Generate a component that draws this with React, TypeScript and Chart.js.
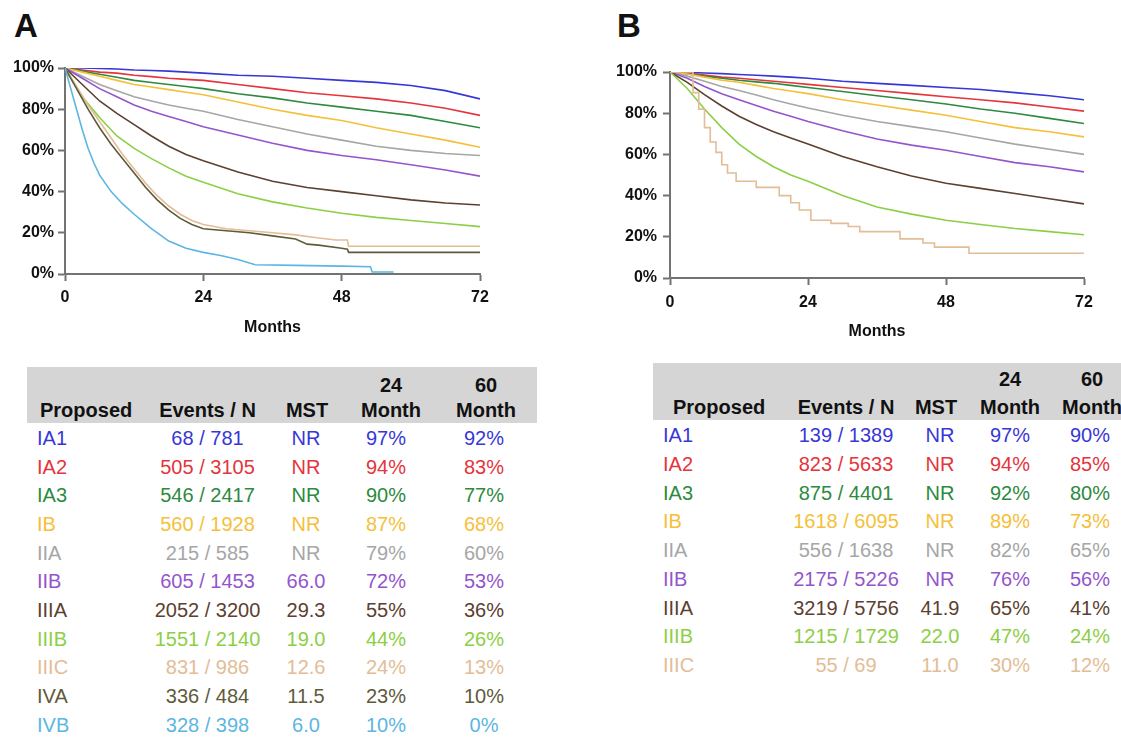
import React, { useEffect, useRef } from 'react';
import { Chart, registerables } from 'chart.js';

Chart.register(...registerables);

const FONT = '"Liberation Sans", Arial, Helvetica, sans-serif';
const AXIS = '#737373';

const COLORS: Record<string, string> = {
  IA1: '#3737d8',
  IA2: '#e5343b',
  IA3: '#2d8a3e',
  IB: '#f5bf3a',
  IIA: '#a6a6a6',
  IIB: '#9455cc',
  IIIA: '#5c4030',
  IIIB: '#8ccf45',
  IIIC: '#e2bd96',
  IVA: '#5e5a3a',
  IVB: '#5cb6e2',
};

// ---------- Panel A curves ----------
const MONTHS_A = [0, 3, 6, 9, 12, 15, 18, 21, 24, 30, 36, 42, 48, 54, 60, 66, 72];
const A_IA1 = [100, 100, 99.8, 99.5, 99, 98.8, 98.5, 98, 97.5, 96.5, 96, 95, 94, 93, 91.5, 89, 85];
const A_IA2 = [100, 99, 98, 97.5, 96.5, 95.8, 95, 94.5, 94, 92, 90, 88, 86.5, 85, 83, 80.5, 77];
const A_IA3 = [100, 98.5, 97, 95.5, 94, 93, 92, 91, 90, 87.5, 85.5, 83, 81, 79, 77, 74, 71];
const A_IB = [100, 98, 96, 94, 92, 90.8, 89.5, 88.2, 87, 83.5, 80, 77, 74.5, 71, 68, 65, 61.5];
const A_IIA = [100, 96, 92, 89, 86, 84, 82, 80.5, 79, 75, 71.5, 68, 65, 62, 60, 58.5, 57.5];
const A_IIB = [100, 95, 90, 86, 82, 79, 76.5, 74, 71.5, 67.5, 63.5, 60, 57.5, 55.5, 53, 50.5, 47.5];
const A_IIIA = [100, 92, 84, 78, 72.5, 67, 62, 58, 55, 49.5, 45, 42, 40, 38, 36, 34.5, 33.5];
const A_IIIB = [100, 86, 76, 67, 61, 56, 51.5, 47.5, 44.5, 39, 35, 32, 29.5, 27.5, 26, 24.5, 23];
const A_IIIC_MONTHS = [0, 2, 4, 6, 8, 10, 12, 14, 16, 18, 20, 22, 24, 28, 32, 36, 40, 44, 47, 49, 49.2, 72];
const A_IIIC = [100, 91, 82, 74, 66, 58, 51, 44, 38, 33, 29, 26, 24, 22, 21, 20, 19, 17.5, 16.5, 16.5, 13.5, 13.5];
const A_IVA_MONTHS = [0, 2, 4, 6, 8, 10, 12, 14, 16, 18, 20, 22, 24, 28, 32, 36, 40, 42, 44, 48, 49, 49.2, 72];
const A_IVA = [100, 90, 80, 71, 63, 56, 49, 42, 36, 31, 27, 24, 22, 21, 20, 18.5, 17, 14.5, 14, 12.5, 12, 10.5, 10.5];
const A_IVB_MONTHS = [0, 1, 2, 3, 4, 5, 6, 8, 10, 12, 15, 18, 21, 24, 27, 30, 33, 40, 48, 53, 53.3, 57];
const A_IVB = [100, 90, 80, 70, 61, 54, 48, 40, 34, 29, 22, 16, 12.5, 10.5, 9, 7, 4.5, 4.2, 3.8, 3.5, 1, 1];

// ---------- Panel B curves ----------
const MONTHS_B = [0, 3, 6, 9, 12, 15, 18, 21, 24, 30, 36, 42, 48, 54, 60, 66, 72];
const B_IA1 = [100, 99.8, 99.5, 99.2, 98.8, 98.4, 98, 97.5, 97, 95.5, 94.5, 93.5, 92.5, 91.5, 90, 88.5, 86.5];
const B_IA2 = [100, 99.5, 98.5, 97.5, 97, 96.2, 95.5, 94.8, 94, 92.5, 91, 89.5, 88, 86.5, 85, 83, 81];
const B_IA3 = [100, 99, 98, 97, 96, 95.2, 94.5, 93.5, 92.5, 90.5, 88.5, 86.5, 84.5, 82, 80, 77.5, 75];
const B_IB = [100, 99, 97.5, 96, 95, 93.5, 92, 90.8, 89.5, 86.5, 84, 81.5, 79, 76, 73, 71, 68.5];
const B_IIA = [100, 98, 95.5, 93, 91, 88.8, 86.5, 84.5, 82.5, 79, 76, 73.5, 71, 68, 65, 62.5, 60];
const B_IIB = [100, 97, 93, 89.5, 86.5, 83.7, 81, 78.5, 76, 71.5, 67.5, 64.5, 62, 59, 56, 54, 51.5];
const B_IIIA = [100, 95, 89, 83.5, 78.5, 74.5, 71, 68, 65, 59, 54, 49.5, 46, 43.5, 41, 38.5, 36];
const B_IIIB = [100, 92, 82, 73, 65, 59, 54, 50, 47, 40, 34.5, 31, 28, 26, 24, 22.5, 21];
const B_IIIC_MONTHS = [0, 4, 5, 6, 7, 8, 9, 10, 11.5, 15, 19, 21, 22.5, 24.5, 28, 31, 33, 40, 44, 46, 52, 72];
const B_IIIC = [100, 90, 82, 73, 66, 61, 55, 51, 47, 44, 40, 36.5, 33, 28, 26.5, 25, 22.5, 19, 17, 15, 12, 12];

// ---------- Tables ----------
const STAGES_A = ['IA1', 'IA2', 'IA3', 'IB', 'IIA', 'IIB', 'IIIA', 'IIIB', 'IIIC', 'IVA', 'IVB'];
const EVENTS_A = ['68 / 781', '505 / 3105', '546 / 2417', '560 / 1928', '215 / 585', '605 / 1453', '2052 / 3200', '1551 / 2140', '831 / 986', '336 / 484', '328 / 398'];
const MST_A = ['NR', 'NR', 'NR', 'NR', 'NR', '66.0', '29.3', '19.0', '12.6', '11.5', '6.0'];
const M24_A = ['97%', '94%', '90%', '87%', '79%', '72%', '55%', '44%', '24%', '23%', '10%'];
const M60_A = ['92%', '83%', '77%', '68%', '60%', '53%', '36%', '26%', '13%', '10%', '0%'];

const STAGES_B = ['IA1', 'IA2', 'IA3', 'IB', 'IIA', 'IIB', 'IIIA', 'IIIB', 'IIIC'];
const EVENTS_B = ['139 / 1389', '823 / 5633', '875 / 4401', '1618 / 6095', '556 / 1638', '2175 / 5226', '3219 / 5756', '1215 / 1729', '55 / 69'];
const MST_B = ['NR', 'NR', 'NR', 'NR', 'NR', 'NR', '41.9', '22.0', '11.0'];
const M24_B = ['97%', '94%', '92%', '89%', '82%', '76%', '65%', '47%', '30%'];
const M60_B = ['90%', '85%', '80%', '73%', '65%', '56%', '41%', '24%', '12%'];

type Series = { name: string; months: number[]; values: number[]; stepped?: boolean };

const SERIES_A: Series[] = [
  { name: 'IVB', months: A_IVB_MONTHS, values: A_IVB },
  { name: 'IVA', months: A_IVA_MONTHS, values: A_IVA },
  { name: 'IIIC', months: A_IIIC_MONTHS, values: A_IIIC },
  { name: 'IIIB', months: MONTHS_A, values: A_IIIB },
  { name: 'IIIA', months: MONTHS_A, values: A_IIIA },
  { name: 'IIB', months: MONTHS_A, values: A_IIB },
  { name: 'IIA', months: MONTHS_A, values: A_IIA },
  { name: 'IB', months: MONTHS_A, values: A_IB },
  { name: 'IA3', months: MONTHS_A, values: A_IA3 },
  { name: 'IA2', months: MONTHS_A, values: A_IA2 },
  { name: 'IA1', months: MONTHS_A, values: A_IA1 },
];

const SERIES_B: Series[] = [
  { name: 'IIIC', months: B_IIIC_MONTHS, values: B_IIIC, stepped: true },
  { name: 'IIIB', months: MONTHS_B, values: B_IIIB },
  { name: 'IIIA', months: MONTHS_B, values: B_IIIA },
  { name: 'IIB', months: MONTHS_B, values: B_IIB },
  { name: 'IIA', months: MONTHS_B, values: B_IIA },
  { name: 'IB', months: MONTHS_B, values: B_IB },
  { name: 'IA3', months: MONTHS_B, values: B_IA3 },
  { name: 'IA2', months: MONTHS_B, values: B_IA2 },
  { name: 'IA1', months: MONTHS_B, values: B_IA1 },
];

type PanelProps = {
  left: number; top: number; width: number; height: number;
  pad: { top: number; right: number; left: number; bottom: number };
  yWidth: number; xHeight: number; xLabelPad: number; yLabelPad: number; titlePadBottom: number;
  series: Series[];
};

function KMPanel(p: PanelProps) {
  const ref = useRef<HTMLCanvasElement>(null);
  useEffect(() => {
    const tickFont = { family: FONT, size: 16, weight: 'bold' as const };
    const chart = new Chart(ref.current as HTMLCanvasElement, {
      type: 'line',
      data: {
        datasets: p.series.map((s) => ({
          label: s.name,
          data: s.months.map((m, i) => ({ x: m, y: s.values[i] })),
          borderColor: COLORS[s.name],
          backgroundColor: COLORS[s.name],
          borderWidth: 1.6,
          pointRadius: 0,
          fill: false,
          tension: 0,
          stepped: s.stepped ? true : false,
        })),
      },
      options: {
        animation: false,
        responsive: false,
        devicePixelRatio: 1,
        layout: { padding: p.pad },
        plugins: { legend: { display: false }, tooltip: { enabled: false } },
        scales: {
          x: {
            type: 'linear',
            min: 0,
            max: 72,
            afterFit: (s: any) => { s.height = p.xHeight; },
            ticks: { stepSize: 24, font: tickFont, color: '#111', padding: p.xLabelPad, maxRotation: 0 },
            grid: { drawOnChartArea: false, drawTicks: true, tickLength: 7, tickWidth: 2, tickColor: AXIS, color: AXIS },
            border: { display: true, color: AXIS, width: 2 },
            title: { display: true, text: 'Months', font: tickFont, color: '#111', padding: { top: 0, bottom: p.titlePadBottom } },
          },
          y: {
            type: 'linear',
            min: 0,
            max: 100,
            afterFit: (s: any) => { s.width = p.yWidth; },
            ticks: { stepSize: 20, font: tickFont, color: '#111', padding: p.yLabelPad, callback: (v: any) => v + '%' },
            grid: { drawOnChartArea: false, drawTicks: true, tickLength: 7, tickWidth: 2, tickColor: AXIS, color: AXIS },
            border: { display: true, color: AXIS, width: 2 },
          },
        },
      } as any,
    });
    return () => chart.destroy();
  }, []);
  return (
    <canvas
      ref={ref}
      width={p.width}
      height={p.height}
      style={{ position: 'absolute', left: p.left, top: p.top, width: p.width, height: p.height }}
    />
  );
}

function T(props: { x: number; baseline: number; color?: string; bold?: boolean; align?: 'left' | 'center'; size?: number; children: React.ReactNode }) {
  const size = props.size ?? 20;
  const asc = 0.905 * size - (1.117 * size - size) / 2;
  return (
    <div
      style={{
        position: 'absolute',
        left: props.x,
        top: props.baseline - asc,
        transform: props.align === 'left' ? undefined : 'translateX(-50%)',
        whiteSpace: 'nowrap',
        fontFamily: FONT,
        fontSize: size,
        lineHeight: size + 'px',
        fontWeight: props.bold ? 'bold' : 'normal',
        color: props.color ?? '#111',
      }}
    >
      {props.children}
    </div>
  );
}

type TableLayout = {
  band: { left: number; top: number; right: number; bottom: number };
  h1: number; h2: number; row0: number; pitch: number;
  propLeft: number; stageLeft: number;
  evC: number; mstH: number; mstD: number; m24H: number; m24D: number; m60H: number; m60D: number;
};

function StageTable(props: { L: TableLayout; stages: string[]; events: string[]; mst: string[]; m24: string[]; m60: string[] }) {
  const { L } = props;
  return (
    <>
      <div style={{ position: 'absolute', left: L.band.left, top: L.band.top, width: L.band.right - L.band.left, height: L.band.bottom - L.band.top, background: '#d5d5d5' }} />
      <T x={L.m24H} baseline={L.h1} bold>24</T>
      <T x={L.m60H} baseline={L.h1} bold>60</T>
      <T x={L.propLeft} baseline={L.h2} bold align="left">Proposed</T>
      <T x={L.evC} baseline={L.h2} bold>Events / N</T>
      <T x={L.mstH} baseline={L.h2} bold>MST</T>
      <T x={L.m24H} baseline={L.h2} bold>Month</T>
      <T x={L.m60H} baseline={L.h2} bold>Month</T>
      {props.stages.map((s, i) => {
        const b = L.row0 + i * L.pitch;
        const c = COLORS[s];
        return (
          <React.Fragment key={s}>
            <T x={L.stageLeft} baseline={b} color={c} align="left">{s}</T>
            <T x={L.evC} baseline={b} color={c}>{props.events[i]}</T>
            <T x={L.mstD} baseline={b} color={c}>{props.mst[i]}</T>
            <T x={L.m24D} baseline={b} color={c}>{props.m24[i]}</T>
            <T x={L.m60D} baseline={b} color={c}>{props.m60[i]}</T>
          </React.Fragment>
        );
      })}
    </>
  );
}

const LAYOUT_A: TableLayout = {
  band: { left: 27, top: 367, right: 537, bottom: 423 },
  h1: 391.5, h2: 416.5, row0: 445, pitch: 28.67,
  propLeft: 40, stageLeft: 37,
  evC: 207.5, mstH: 307, mstD: 306, m24H: 391, m24D: 386, m60H: 486, m60D: 484,
};

const LAYOUT_B: TableLayout = {
  band: { left: 653, top: 363, right: 1121, bottom: 420 },
  h1: 386, h2: 414.3, row0: 442.3, pitch: 28.7,
  propLeft: 673, stageLeft: 663,
  evC: 846, mstH: 936, mstD: 940, m24H: 1010, m24D: 1010, m60H: 1092, m60D: 1090,
};

export default function App() {
  return (
    <div style={{ position: 'absolute', left: 0, top: 0, width: 1121, height: 737, overflow: 'hidden', background: '#fff' }}>
      <T x={14} baseline={37} bold align="left" size={33}>A</T>
      <T x={617} baseline={37} bold align="left" size={33}>B</T>
      <KMPanel
        left={0} top={0} width={500} height={345}
        pad={{ top: 68, right: 20, left: 0, bottom: 0 }}
        yWidth={65} xHeight={71} xLabelPad={7} yLabelPad={4} titlePadBottom={8}
        series={SERIES_A}
      />
      <KMPanel
        left={600} top={0} width={521} height={350}
        pad={{ top: 72, right: 37, left: 0, bottom: 0 }}
        yWidth={70} xHeight={72} xLabelPad={8} yLabelPad={6} titlePadBottom={9}
        series={SERIES_B}
      />
      <StageTable L={LAYOUT_A} stages={STAGES_A} events={EVENTS_A} mst={MST_A} m24={M24_A} m60={M60_A} />
      <StageTable L={LAYOUT_B} stages={STAGES_B} events={EVENTS_B} mst={MST_B} m24={M24_B} m60={M60_B} />
    </div>
  );
}
